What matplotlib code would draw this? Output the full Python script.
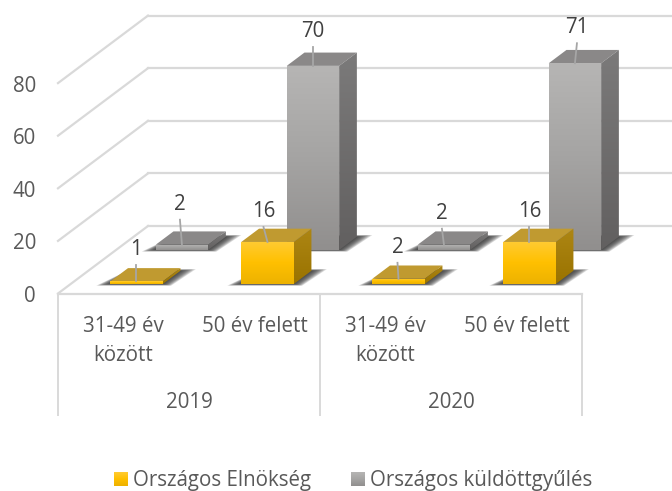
import matplotlib.pyplot as plt
import matplotlib.colors as mc
from matplotlib.patches import Polygon
import numpy as np

plt.rcParams['font.family'] = ['Open Sans', 'DejaVu Sans']

years = ['2019', '2020']
age_groups = ['31-49 év\nközött', '50 év felett']
series_names = ['Országos Elnökség', 'Országos küldöttgyűlés']
elnokseg = [1, 16, 2, 16]
kuldottgyules = [2, 70, 2, 71]
ticks = [0, 20, 40, 60, 80]

# pixels per unit, the axes span the whole figure
PX_X = 131.0
PX_Y = 2.63
X0 = 58.0
Y0 = 293.5
W = 672
H = 491
# oblique floor: full depth shift in pixels
DEPTH_X = 90.0
DEPTH_Y = 67.5
BAR_W = 0.4
BAR_D = 0.197
BAR_OFF = 0.303
ROW = [0.14, 0.645]
FS = 14.8

fig = plt.figure(figsize=(W/100, H/100), dpi=100)
ax = fig.add_axes([0, 0, 1, 1])
ax.axis('off')
xlim = (-X0/PX_X, (W-X0)/PX_X)
ylim = (-(H-Y0)/PX_Y, Y0/PX_Y)


def dx(px):
    return px/PX_X


def dy(px):
    return px/PX_Y


def proj(x, v, d):
    return x+dx(DEPTH_X)*d, v+dy(DEPTH_Y)*d


def grad_poly(pts, c_top, c_bot, z, c_mid=None):
    pts = np.array(pts)
    cols = [c_top, c_mid, c_bot] if c_mid else [c_top, c_bot]
    cmap = mc.LinearSegmentedColormap.from_list('g', cols)
    img = ax.imshow(np.linspace(0, 1, 64)[:, None], cmap=cmap, aspect='auto', zorder=z,
                    extent=(pts[:, 0].min(), pts[:, 0].max(), pts[:, 1].min(), pts[:, 1].max()),
                    origin='upper', interpolation='bilinear')
    img.set_clip_path(Polygon(pts, transform=ax.transData))


def shadow(x, d, z):
    # soft dark patch on the floor, stacked see-through layers
    for k in range(9):
        gx = dx(14-k*1.6)
        gy = dy(1.6-k*0.2)
        a = proj(x-gx, 0-gy, d)
        b = proj(x+BAR_W+gx*0.6, 0-gy, d)
        c = proj(x+BAR_W+gx*1.1, 0+gy, d+BAR_D)
        e = proj(x+gx*0.2, 0+gy, d+BAR_D)
        ax.add_patch(Polygon([a, b, c, e], fc='#303030', ec='none', alpha=0.18, zorder=z))


def bar3d(x, v, d, colors, z):
    f0 = proj(x, 0, d)
    f1 = proj(x+BAR_W, 0, d)
    f2 = proj(x+BAR_W, v, d)
    f3 = proj(x, v, d)
    b1 = proj(x+BAR_W, 0, d+BAR_D)
    b2 = proj(x+BAR_W, v, d+BAR_D)
    b3 = proj(x, v, d+BAR_D)
    ax.add_patch(Polygon([f3, f2, b2, b3], fc=colors['top'], ec='none', zorder=z))
    grad_poly([f1, f2, b2, b1], colors['side'][0], colors['side'][1], z)
    grad_poly([f0, f1, f2, f3], colors['front'][0], colors['front'][2], z+0.1, colors['front'][1])


GRID = '#D9D9D9'
# back wall and left wall
for t in ticks:
    bx, by = proj(0, t, 1)
    ax.plot([0, bx], [t, by], color=GRID, lw=1.6, zorder=1)
    ax.plot([bx, xlim[1]], [by, by], color=GRID, lw=1.6, zorder=1)
    ax.text(dx(36-X0), t-dy(3), str(t), ha='right', va='center', fontsize=FS, color='#595959')

# multi level category axis
ax.plot([0, 4], [0, 0], color=GRID, lw=1.6, zorder=1)
for i in [0, 2, 4]:
    ax.plot([i, i], [0, -dy(121.5)], color=GRID, lw=1.4, zorder=1)
for i, y in enumerate(years):
    ax.text(2*i+1, -dy(109), y, ha='center', va='center', fontsize=FS, color='#595959')
    for j, g in enumerate(age_groups):
        if '\n' in g:
            a, b = g.split('\n')
            ax.text(2*i+j+0.5, -dy(33.5), a, ha='center', va='center', fontsize=FS, color='#595959')
            ax.text(2*i+j+0.5, -dy(62), b, ha='center', va='center', fontsize=FS, color='#595959')
        else:
            ax.text(2*i+j+0.5, -dy(33.5), g, ha='center', va='center', fontsize=FS, color='#595959')

yellow = {'top': '#C09A30', 'side': ('#AD8614', '#9A7300'), 'front': ('#FFCB33', '#FFC000', '#EDB200')}
gray = {'top': '#8A8888', 'side': ('#7B7A7A', '#626060'), 'front': ('#B6B5B4', '#A5A4A3', '#918F8E')}

# label leaders: shift at the top and length in pixels
lead_y = [(0, 16), (-4, 15), (-1, 16), (0, 15)]
lead_g = [(-2, 25), (0, 19), (-2, 16), (2, 20)]

z = 2
for values, row, colors, lead in [(kuldottgyules, 1, gray, lead_g), (elnokseg, 0, yellow, lead_y)]:
    for i, v in enumerate(values):
        shadow(i+BAR_OFF, ROW[row], z)
    z += 1
    for i, v in enumerate(values):
        bar3d(i+BAR_OFF, v, ROW[row], colors, z)
        z += 1
    for i, v in enumerate(values):
        mx, my = proj(i+BAR_OFF+BAR_W/2, v, ROW[row])
        tx, ty = mx+dx(lead[i][0]), my+dy(lead[i][1])
        ax.plot([mx, tx], [my, ty], color='#A6A6A6', lw=1.3, zorder=20)
        ax.text(tx, ty+dy(15.5), str(v), ha='center', va='center', fontsize=FS, color='#404040', zorder=21)

# legend
lx = [dx(114-X0), dx(351-X0)]
ly = -dy(486-Y0)
swatch = [yellow['front'], gray['front']]
for x, name, c in zip(lx, series_names, swatch):
    s = [(x, ly), (x+dx(14), ly), (x+dx(14), ly+dy(14)), (x, ly+dy(14))]
    grad_poly(s, c[0], c[2], 5, c[1])
    ax.text(x+dx(19), ly+dy(5.5), name, ha='left', va='center', fontsize=FS, color='#595959')

ax.set_xlim(xlim)
ax.set_ylim(ylim)
fig.savefig('out.png', dpi=100)
